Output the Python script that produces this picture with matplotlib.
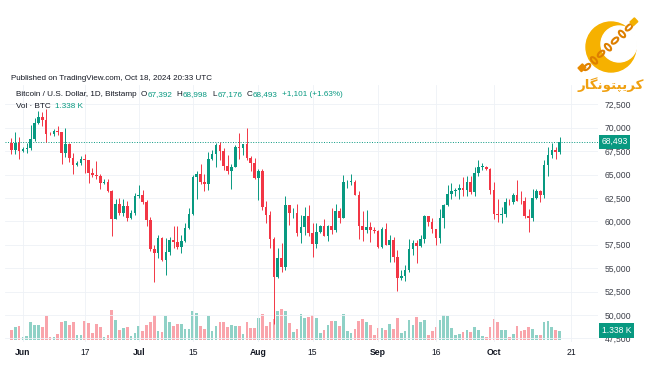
import numpy as np
import pandas as pd
import matplotlib
matplotlib.use("Agg")
import matplotlib.pyplot as plt
from matplotlib.patches import Circle, Ellipse, Rectangle
import matplotlib.transforms as mtransforms

plt.rcParams['font.family'] = ['Liberation Sans', 'DejaVu Sans']

# BTC/USD daily, Bitstamp, 2024-05-29 .. 2024-10-18
dates = pd.date_range("2024-05-29", "2024-10-18", freq="D")
first_open = 68350
closes = [67600, 68350, 67500,
          67750, 67800, 68800, 70550, 71100, 70800, 69350, 69300, 69650, 69500, 67300, 68250, 66750, 66000, 66200,
          66650, 66500, 65150, 64960, 64830, 64100, 64250, 63200, 60280, 61800, 60850, 61600, 60300, 60900, 62700,
          62850, 62050, 60150, 57050, 56650, 58250, 55850, 56700, 58000, 57750, 57300, 57900, 59250, 60800, 64750,
          65100, 64150, 63950, 66700, 67150, 68200, 67550, 65950, 65350, 65800, 67900, 67800, 68250, 66800, 66200, 64600,
          65350, 61500, 60700, 58100, 54000, 56050, 55100, 61700, 60850, 60900, 58700, 59350, 60600, 58750, 57550,
          58900, 59500, 58450, 59500, 59050, 61150, 60400, 64150, 64200, 64250, 62850, 59450, 59050, 59350, 59100, 58950,
          57300, 59150, 57500, 57950, 56150, 53950, 54150, 54850, 57050, 57650, 57350, 58100, 60550, 59950, 59150,
          58200, 60300, 61750, 62950, 63200, 63350, 63600, 63350, 64250, 63150, 65200, 65800, 65850, 65600, 63300,
          60800, 60650, 60750, 62100, 62050, 62850, 62200, 62150, 60600, 60300, 62450, 63200, 62850, 66050, 67050,
          67600, 67392, 68493]
highs = [68900, 69500, 69000,
         67900, 68400, 70250, 71050, 71750, 71650, 71950, 69550, 69900, 70150, 69550, 69950, 68350, 67300, 66400,
         66950, 67200, 66500, 65700, 66450, 65050, 64500, 64550, 63350, 62350, 62450, 62350, 62200, 61200, 63050,
         63850, 63300, 62300, 60500, 57500, 58500, 58300, 58200, 58300, 59450, 59450, 58550, 59850, 61450, 64900,
         65350, 66100, 65100, 67450, 67650, 68400, 68500, 67850, 67100, 66150, 68200, 69400, 68300, 70000, 66950, 66800,
         65600, 65550, 62150, 61100, 58300, 57100, 57700, 62700, 61750, 61450, 61800, 60700, 61550, 61750, 59800,
         59800, 59650, 60250, 59600, 61400, 61800, 61400, 64950, 64450, 65050, 64450, 63200, 61150, 61200, 59950, 59400,
         59050, 59400, 59800, 58500, 58300, 56950, 54850, 55300, 58100, 58050, 57950, 58550, 60650, 60600, 60400,
         59200, 61300, 61800, 63850, 64100, 63550, 63950, 64700, 64800, 64800, 65750, 66500, 66250, 65950, 65650,
         64150, 62400, 61500, 62450, 62400, 63000, 64450, 63200, 62550, 61300, 63400, 63450, 63300, 66500, 67900,
         68400, 67900, 68998]
lows = [67150, 67150, 66650,
        67400, 67300, 67650, 68550, 70400, 70150, 68500, 69200, 69150, 69250, 66100, 66900, 66300, 65100, 65900,
        66050, 65150, 64100, 64700, 64550, 63400, 63950, 63150, 58450, 60250, 60650, 60600, 60050, 60250, 60700,
        62500, 61800, 59450, 56800, 53500, 56050, 55800, 54300, 56350, 57200, 57050, 56600, 57800, 59200, 60650,
        62400, 63950, 63250, 63350, 66600, 65800, 66600, 65500, 65100, 63400, 65750, 66700, 67050, 66500, 65350, 64500,
        62300, 61200, 59850, 57200, 49050, 53950, 54600, 54800, 59600, 60300, 58450, 57650, 58500, 58450, 56150,
        57100, 58800, 58400, 57850, 58650, 58850, 59800, 60350, 63600, 63900, 62800, 58100, 57900, 58800, 57750, 58700,
        57200, 57150, 57450, 55600, 55700, 52550, 53750, 53650, 54600, 56400, 55550, 57300, 57650, 59550, 58700,
        57500, 57650, 59250, 61600, 62400, 62750, 62400, 62700, 62700, 62900, 62650, 64850, 65450, 65450, 62900,
        60200, 59950, 59850, 60500, 61700, 61850, 62150, 61850, 60300, 58900, 60050, 62400, 62050, 62450, 64800,
        66750, 66700, 67176]
volumes = [1410, 1830, 1970,
           420, 560, 2540, 2120, 2120, 1830, 3380, 420, 420, 850, 2540, 2680, 2120, 2540, 710,
           710, 2680, 2400, 990, 2260, 1830, 420, 710, 4230, 2820, 1410, 1690, 1830, 560, 990,
           1970, 1270, 2120, 2540, 3530, 1270, 1130, 3380, 2540, 1970, 2260, 2260, 1550, 1550, 4090,
           3810, 1970, 1550, 3380, 1270, 1970, 2540, 2540, 1830, 2120, 1970, 1970, 850, 2540, 1690, 1690,
           3100, 3670, 1970, 2540, 2960, 4090, 4370, 4090, 2400, 1130, 1550, 3670, 3100, 3240, 3530,
           3100, 990, 1410, 2120, 2680, 2680, 1970, 3670, 1270, 990, 1550, 2680, 2960, 2540, 2120, 710,
           1690, 1690, 1410, 2260, 1550, 3100, 990, 1270, 2820, 2120, 3240, 2540, 2820, 710, 1270,
           1830, 2820, 3530, 3380, 1690, 710, 850, 1130, 1410, 1130, 1830, 1410, 560, 420, 1830,
           2960, 2540, 1410, 1410, 420, 850, 1970, 1270, 1410, 1830, 1550, 710, 710, 2540, 2680,
           1830, 1410, 1338]
opens = [first_open] + closes[:-1]

price_ticks = [47500, 50000, 52500, 55000, 57500, 60000, 62500, 65000, 67500, 70000, 72500]
tick_dates = ["2024-06-01", "2024-06-17", "2024-07-01", "2024-07-15", "2024-08-01",
              "2024-08-15", "2024-09-01", "2024-09-16", "2024-10-01", "2024-10-21"]
tick_labels = ["Jun", "17", "Jul", "15", "Aug", "15", "Sep", "16", "Oct", "21"]
month_labels = {"Jun", "Jul", "Aug", "Sep", "Oct"}

GREEN = '#089981'
RED = '#f23645'
TEXT = '#131722'
W, H = 650, 365

base = pd.Timestamp("2024-06-01")
x = np.array((dates - base).days, dtype=float)
o = np.array(opens, dtype=float)
c = np.array(closes, dtype=float)
up = c >= o
cols = np.where(up, GREEN, RED)

fig = plt.figure(figsize=(W / 100, H / 100), dpi=100)
fig.patch.set_facecolor('white')
rect = [5 / W, 1 - 342 / H, 593 / W, 257 / H]

# volume pane (behind)
vax = fig.add_axes(rect)
vax.bar(x, volumes, width=0.7, color=cols, alpha=0.45, linewidth=0)
vax.set_ylim(-280, 36000)
vax.set_xlim(-4.66, 148.96)
vax.axis('off')

# price pane
ax = fig.add_axes(rect)
ax.patch.set_visible(False)
ax.set_xlim(-4.66, 148.96)
ax.set_ylim(47105, 74562)
ax.vlines(x, lows, highs, colors=cols, linewidth=0.7, zorder=3)
body_h = np.maximum(np.abs(c - o), 60)
ax.bar(x, body_h, bottom=np.minimum(o, c), width=0.68, color=cols, linewidth=0, zorder=4)

ax.axhline(closes[-1], color=GREEN, linestyle=(0, (1, 1.6)), linewidth=0.7, zorder=2)

ax.yaxis.tick_right()
ax.set_yticks(price_ticks)
ax.set_yticklabels([f"{p:,}" for p in price_ticks])
tick_x = [(pd.Timestamp(d) - base).days for d in tick_dates]
ax.set_xticks(tick_x)
ax.set_xticklabels(tick_labels)
ax.tick_params(axis='y', length=0, pad=5, labelsize=6.2, labelcolor='#3c3f49')
ax.tick_params(axis='x', length=0, pad=4.5, labelsize=6.2, labelcolor=TEXT)
for lab in ax.get_xticklabels():
    if lab.get_text() in month_labels:
        lab.set_fontweight('bold')
ax.grid(True, color='#eef1f6', linewidth=0.6, zorder=0)
for s in ax.spines.values():
    s.set_visible(False)

# last price / last volume badges
trans = mtransforms.blended_transform_factory(ax.transAxes, ax.transData)
ax.text(1.006, closes[-1], f"{closes[-1]:,}", transform=trans, ha='left', va='center',
        fontsize=6.2, color='white', clip_on=False, zorder=6,
        bbox=dict(boxstyle='square,pad=0.3', facecolor=GREEN, edgecolor='none'))
vtrans = mtransforms.blended_transform_factory(vax.transAxes, vax.transData)
ax.text(1.006, volumes[-1], "1.338 K", transform=vtrans, ha='left', va='center',
        fontsize=6.2, color='white', clip_on=False, zorder=6,
        bbox=dict(boxstyle='square,pad=0.3', facecolor=GREEN, edgecolor='none'))

# header texts
renderer = fig.canvas.get_renderer()


def chain(parts, x0, y0, size):
    xx = x0
    for s, col, gap in parts:
        t = fig.text(xx / W, 1 - y0 / H, s, color=col, fontsize=size, ha='left', va='center')
        bb = t.get_window_extent(renderer)
        xx = bb.x1 + gap


chain([("Published on TradingView.com, Oct 18, 2024 20:33 UTC", TEXT, 0)], 11, 78, 5.8)
chain([("Bitcoin / U.S. Dollar, 1D, Bitstamp", TEXT, 4),
       ("O", TEXT, 0.8), ("67,392", GREEN, 4),
       ("H", TEXT, 0.8), ("68,998", GREEN, 4),
       ("L", TEXT, 0.8), ("67,176", GREEN, 4),
       ("C", TEXT, 0.8), ("68,493", GREEN, 4),
       ("+1,101 (+1.63%)", GREEN, 0)], 16, 95, 5.9)
chain([("Vol \u00b7 BTC", TEXT, 4), ("1.338 K", GREEN, 0)], 16, 107, 5.9)

# logo
lax = fig.add_axes([570 / W, 1 - 96 / H, 78 / W, 80 / H])
lax.set_xlim(570, 648)
lax.set_ylim(96, 16)
lax.set_aspect('equal')
lax.axis('off')
lax.add_patch(Circle((611, 47), 25, color='#f6b100'))
lax.add_patch(Circle((619, 44), 18, color='white'))
for k in range(7):
    cx = 587 + k * 7.0
    cy = 67 - k * 6.6
    lax.add_patch(Ellipse((cx, cy), 8, 4.2, angle=-43 if k % 2 == 0 else 47,
                          facecolor='none', edgecolor='#dd7f00', linewidth=1.5))
lax.add_patch(Rectangle((578, 68), 6, 5, angle=-43, color='#e88a00'))
lax.add_patch(Rectangle((630, 22), 6, 5, angle=-43, color='#f3b000'))

# Persian brand name (shaped presentation forms, visual order)
brand = "\uFEAD\uFE8E\uFB95\uFEE7\uFEEE\uFE98\uFB59\uFBFE\uFEAE\uFB90"
fig.text(611 / W, 1 - 85 / H, brand, fontsize=9.6, color='#f0a010', ha='center', va='center',
         family=['DejaVu Sans'], fontweight='bold')

fig.savefig("out.png", dpi=100, facecolor='white')
